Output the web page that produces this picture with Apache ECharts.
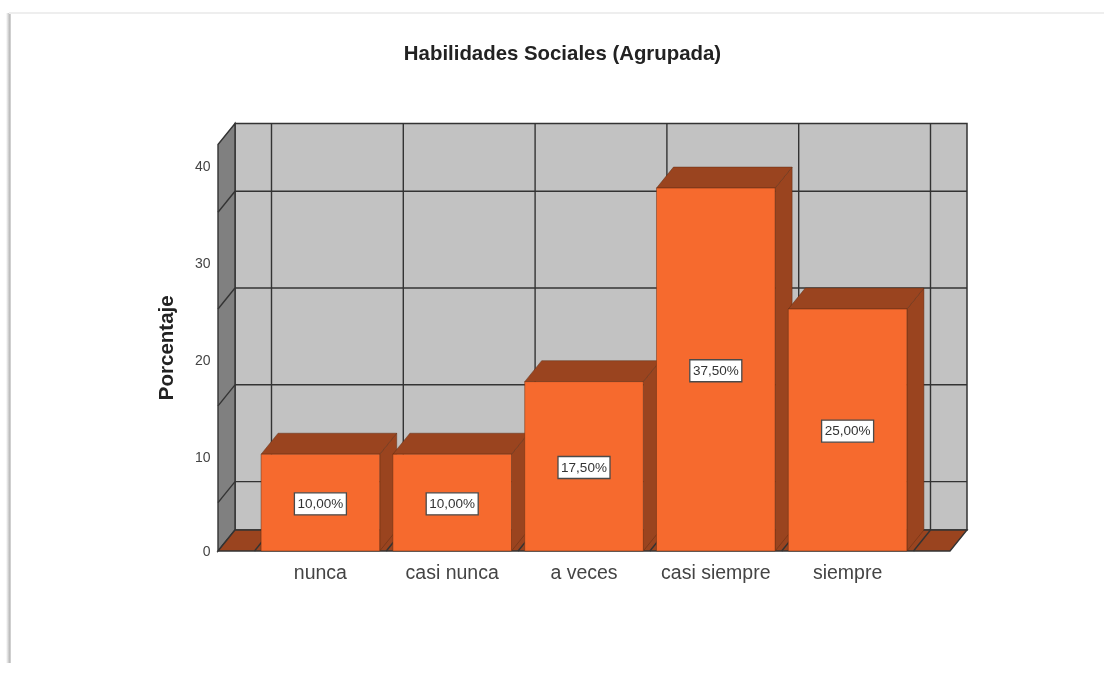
<!DOCTYPE html>
<html>
<head>
<meta charset="utf-8">
<style>
html,body{margin:0;padding:0;background:#fff;}
#c{width:1104px;height:675px;filter:blur(0.6px);}
</style>
<script src="https://cdn.jsdelivr.net/npm/echarts@6/dist/echarts.min.js"></script>
</head>
<body>
<div id="c"></div>
<script>
const titleText = 'Habilidades Sociales (Agrupada)';
const yAxisName = 'Porcentaje';
const categories = ['nunca', 'casi nunca', 'a veces', 'casi siempre', 'siempre'];
const percentages = [10, 10, 17.5, 37.5, 25];
const wallGridValues = [5, 15, 25, 35];
const yMax = 42;

const depthX = 17, depthY = -21, sidePad = 36.5, barRatio = 0.9;
const cFront = '#f66a2e', cDark = '#9a441f', cWall = '#c2c2c2', cSide = '#808080', cLine = '#333333';

function poly(points, fill, stroke, lw) {
  return { type: 'polygon', shape: { points }, style: { fill, stroke: stroke || null, lineWidth: lw || 0 } };
}
function line(a, b, w, col) {
  return { type: 'line', shape: { x1: a[0], y1: a[1], x2: b[0], y2: b[1] }, style: { stroke: col || cLine, lineWidth: w || 1.4 } };
}

function renderWalls(params, api) {
  const band = api.size([1, 0])[0];
  const first = api.coord([0, 0]);
  const top = api.coord([0, yMax])[1];
  const y0 = first[1];
  const xL = first[0] - band / 2 - sidePad;
  const xR = first[0] - band / 2 + band * categories.length + sidePad;
  const ch = [];
  ch.push(poly([[xL + depthX, top + depthY], [xR + depthX, top + depthY], [xR + depthX, y0 + depthY], [xL + depthX, y0 + depthY]], cWall, cLine, 1.5));
  ch.push(poly([[xL, top], [xL + depthX, top + depthY], [xL + depthX, y0 + depthY], [xL, y0]], cSide, cLine, 1.4));
  ch.push(poly([[xL, y0], [xL + depthX, y0 + depthY], [xR + depthX, y0 + depthY], [xR, y0]], cDark, cLine, 1.4));
  wallGridValues.forEach(v => {
    const y = api.coord([0, v])[1];
    ch.push(line([xL, y], [xL + depthX, y + depthY]));
    ch.push(line([xL + depthX, y + depthY], [xR + depthX, y + depthY]));
  });
  for (let i = 0; i <= categories.length; i++) {
    const x = first[0] - band / 2 + band * i;
    ch.push(line([x + depthX, top + depthY], [x + depthX, y0 + depthY]));
    ch.push(line([x, y0], [x + depthX, y0 + depthY]));
  }
  return { type: 'group', children: ch };
}

function renderBar(params, api) {
  const i = api.value(0), v = api.value(1);
  const band = api.size([1, 0])[0];
  const w = band * barRatio;
  const base = api.coord([i, 0]);
  const topP = api.coord([i, v]);
  const xa = base[0] - w / 2, xb = base[0] + w / 2, y0 = base[1], y1 = topP[1];
  const edge = 'rgba(95,45,20,0.6)';
  const label = v.toFixed(2).replace('.', ',') + '%';
  const cy = (y0 + y1) / 2 + 1.2, cx = base[0];
  return {
    type: 'group',
    children: [
      poly([[xb, y1], [xb + depthX, y1 + depthY], [xb + depthX, y0 + depthY], [xb, y0]], cDark, edge, 0.8),
      poly([[xa, y1], [xa + depthX, y1 + depthY], [xb + depthX, y1 + depthY], [xb, y1]], cDark, edge, 0.8),
      { type: 'rect', shape: { x: xa, y: y1, width: w, height: y0 - y1 }, style: { fill: cFront, stroke: edge, lineWidth: 0.8 } },
      { type: 'rect', shape: { x: cx - 26, y: cy - 11, width: 52, height: 22 }, style: { fill: '#fff', stroke: '#4a4a4a', lineWidth: 1.3 } },
      { type: 'text', style: { text: label, x: cx, y: cy + 0.5, align: 'center', verticalAlign: 'middle', fill: '#333', font: '13.5px "Liberation Sans"' } }
    ]
  };
}

const chart = echarts.init(document.getElementById('c'), null, { renderer: 'canvas' });
chart.setOption({
  animation: false,
  backgroundColor: '#fff',
  title: {
    text: titleText, left: 557.5, top: 39.5, textAlign: 'center',
    textStyle: { fontFamily: 'Liberation Sans', fontSize: 20.4, fontWeight: 'bold', color: '#222' }
  },
  graphic: [
    { type: 'rect', shape: { x: 6, y: 13, width: 5, height: 650 }, silent: true, z: -1,
      style: { fill: new echarts.graphic.LinearGradient(0, 0, 1, 0, [{ offset: 0, color: '#fff' }, { offset: 0.7, color: '#bdbdbd' }, { offset: 1, color: '#d8d8d8' }]) } },
    { type: 'rect', shape: { x: 9, y: 12, width: 1095, height: 2 }, silent: true, z: -1, style: { fill: '#eeeeee' } }
  ],
  grid: { left: 254.5, width: 659, top: 144.5, height: 406.5 },
  xAxis: {
    type: 'category', data: categories,
    axisLine: { show: false }, axisTick: { show: false },
    axisLabel: { interval: 0, margin: 13, fontFamily: 'Liberation Sans', fontSize: 19.5, color: '#444' }
  },
  yAxis: {
    type: 'value', min: 0, max: yMax, interval: 10,
    axisLine: { show: false }, axisTick: { show: false }, splitLine: { show: false },
    axisLabel: {
      margin: 44, showMaxLabel: false,
      formatter: v => (v === 0 ? '{z|0}' : '{n|' + v + '}'),
      rich: {
        z: { fontFamily: 'Liberation Sans', fontSize: 14, color: '#444', padding: [2, 0, 0, 0] },
        n: { fontFamily: 'Liberation Sans', fontSize: 14, color: '#444', padding: [7, 0, 0, 0] }
      }
    },
    name: yAxisName, nameLocation: 'middle', nameGap: 77,
    nameTextStyle: { fontFamily: 'Liberation Sans', fontSize: 20.5, fontWeight: 'bold', color: '#222' }
  },
  series: [
    { type: 'custom', z: 1, silent: true, clip: false, renderItem: renderWalls, data: [[categories[0], 0]], encode: { x: 0, y: 1 } },
    { type: 'custom', z: 2, silent: true, clip: false, renderItem: renderBar,
      data: percentages.map((v, i) => [categories[i], v]), encode: { x: 0, y: 1 } }
  ]
});
</script>
</body>
</html>
